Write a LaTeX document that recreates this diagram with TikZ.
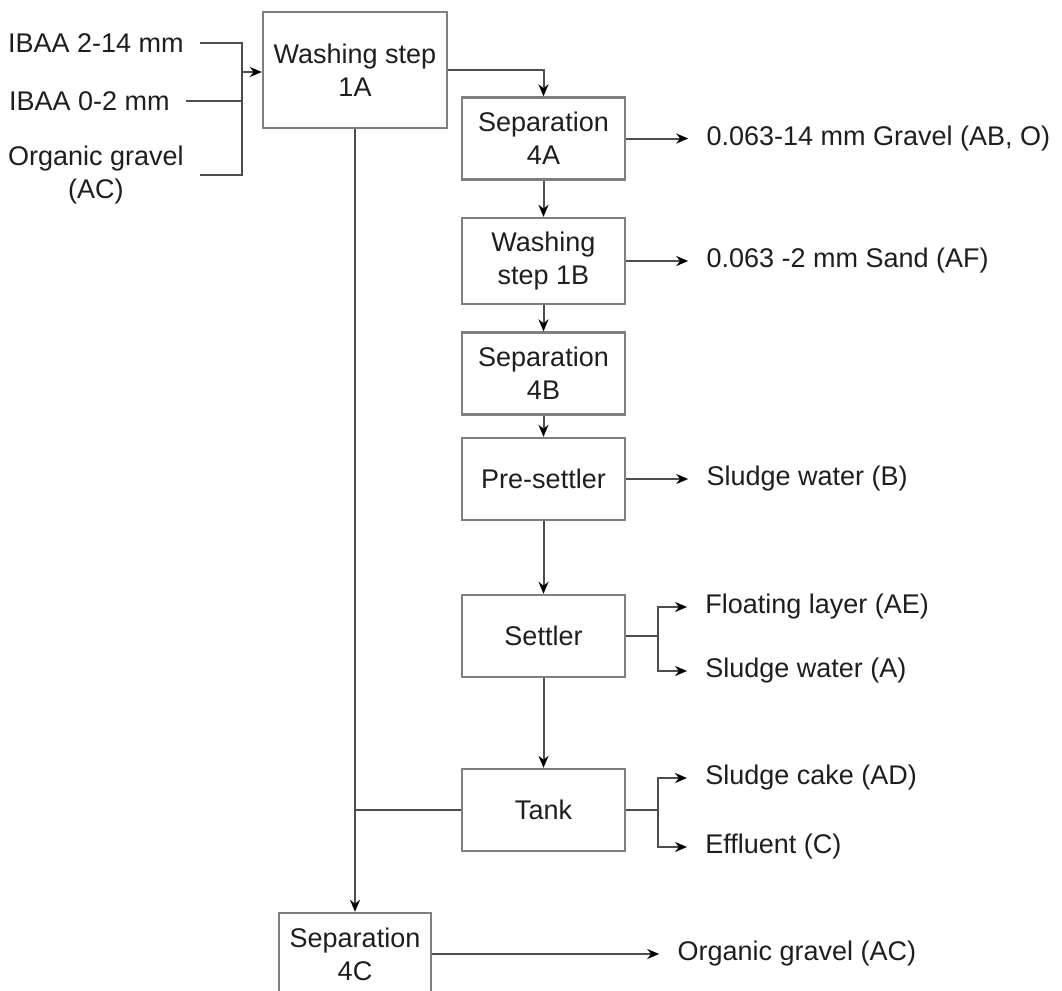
\documentclass[tikz,border=0pt]{standalone}
\usepackage{fontspec}
\setmainfont{Liberation Sans}
\usepackage{tikz}
\usetikzlibrary{arrows.meta, positioning}
\definecolor{boxgray}{HTML}{7F7F7F}
\definecolor{linegray}{HTML}{4D4D4D}
\definecolor{inkgray}{HTML}{1E1E1E}
\tikzstyle{unit} = [rectangle, draw=boxgray, line width=1.2pt, minimum width=81.5pt, minimum height=41pt, inner sep=0pt, align=center, text centered]
\tikzstyle{feed} = [inner xsep=8pt, inner ysep=0pt, align=center]
\tikzstyle{product} = [inner xsep=9pt, inner ysep=0pt, anchor=west]
\tikzstyle{line} = [draw=linegray, line width=1pt]
\tikzstyle{arrow} = [line, -{Stealth[length=6pt, width=5pt, black]}]

\begin{document}
\begin{tikzpicture}[x=0.5pt, y=-0.5pt, font=\fontsize{13.5}{16.5}\selectfont, text=inkgray]
    \useasboundingbox (0,0) rectangle (1062,991);
    % Nodes - process units
    \node (wash1a) [unit, minimum width=92pt, minimum height=58pt] at (355,70) {Washing step\\1A};
    \node (sep4a) [unit] at (543.5,138.5) {Separation\\4A};
    \node (wash1b) [unit, minimum height=43pt] at (543.5,261) {Washing\\step 1B};
    \node (sep4b) [unit] at (543.5,373.5) {Separation\\4B};
    \node (presettler) [unit] at (543.5,479) {Pre-settler};
    \node (settler) [unit] at (543.5,636) {Settler};
    \node (tank) [unit] at (543.5,810) {Tank};
    \node (sep4c) [unit, minimum width=76pt] at (355,954) {Separation\\4C};

    % Feeds
    \node (ibaa14) [feed, anchor=east] at (200,43) {IBAA 2-14 mm};
    \node (ibaa2) [feed, anchor=east] at (186,101) {IBAA 0-2 mm};
    \node (orgin) [feed, anchor=east] at (200,175) {Organic gravel\\(AC)};
    \coordinate (merge) at (242,72);

    % Products
    \node (gravel) [product, right=31pt of sep4a] {0.063-14 mm Gravel (AB, O)};
    \node (sand) [product, right=31pt of wash1b] {0.063 -2 mm Sand (AF)};
    \node (sludgeb) [product, right=31pt of presettler] {Sludge water (B)};
    \node (floating) [product] at (687,607) {Floating layer (AE)};
    \node (sludgea) [product] at (687,671) {Sludge water (A)};
    \node (cake) [product] at (687,778) {Sludge cake (AD)};
    \node (effluent) [product] at (687,847) {Effluent (C)};
    \node (orgout) [product, right=113.5pt of sep4c] {Organic gravel (AC)};
    \path (settler.east) ++(32,0) coordinate (settlersplit);
    \path (tank.east) ++(32,0) coordinate (tanksplit);

    % Arrows
    \draw [line] (ibaa14.east) -| (merge);
    \draw [line] (orgin.east) -| (merge);
    \draw [line] (ibaa2.east) -- (ibaa2.east -| merge);
    \draw [arrow] (merge) -- (merge -| wash1a.west);
    \draw [arrow] (wash1a.east) -| (sep4a.north);
    \draw [arrow] (sep4a) -- (wash1b);
    \draw [arrow] (wash1b) -- (sep4b);
    \draw [arrow] (sep4b) -- (presettler);
    \draw [arrow] (presettler) -- (settler);
    \draw [arrow] (settler) -- (tank);
    \draw [arrow] (wash1a.south) -- (sep4c.north);
    \draw [line] (tank.west) -- (tank.west -| wash1a.south);
    \draw [arrow] (sep4a) -- (gravel);
    \draw [arrow] (wash1b) -- (sand);
    \draw [arrow] (presettler) -- (sludgeb);
    \draw [line] (settler.east) -- (settlersplit);
    \draw [arrow] (settlersplit) |- (floating.west);
    \draw [arrow] (settlersplit) |- (sludgea.west);
    \draw [line] (tank.east) -- (tanksplit);
    \draw [arrow] (tanksplit) |- (cake.west);
    \draw [arrow] (tanksplit) |- (effluent.west);
    \draw [arrow] (sep4c) -- (orgout);
\end{tikzpicture}
\end{document}
